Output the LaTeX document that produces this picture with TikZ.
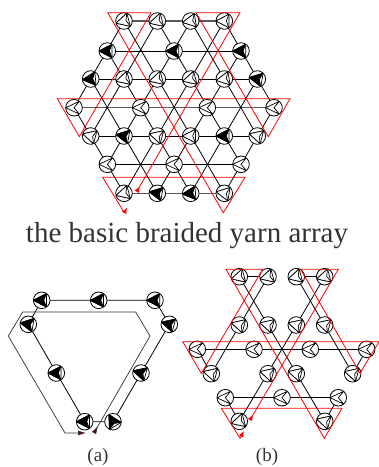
\documentclass[tikz,border=0pt]{standalone}
\usepackage{fontspec}
\setmainfont{Liberation Serif}
\usetikzlibrary{arrows.meta}

\begin{document}
\begin{tikzpicture}[
  x=1pt, y=-1pt,
  yarn/.style = {line width=0.8pt, black},
  wornyarn/.style = {line width=1.1pt, black!65},
  thread/.style = {line width=0.8pt, red, line join=miter,
    {Latex[reversed,length=6pt,width=5pt]}-{Latex[length=6pt,width=5pt]}},
  blackthread/.style = {line width=0.7pt, black!80, line join=miter,
    {Latex[reversed,length=8pt,width=5pt,fill=red!40!black]}-{Latex[length=8pt,width=5pt,fill=red!40!black]}},
  carrier/.style 2 args = {circle, draw=black, line width=0.8pt, fill=white,
    minimum size=16.6pt, inner sep=0pt,
    path picture={
      \draw[line width=0.7pt, shift={(path picture bounding box.center)}]
        (#1:8.3) -- ({#1+125}:8.3) -- ({#1-125}:8.3) -- cycle;
      \draw[line width=0.7pt, fill=#2, shift={(path picture bounding box.center)}]
        (#1:8.3) -- ({#1+125}:8.3) -- (#1+180:2) -- ({#1-125}:8.3) -- cycle;}},
  notched/.style = {circle, draw=black, line width=0.8pt, fill=white,
    minimum size=16.6pt, inner sep=0pt,
    path picture={
      \draw[line width=0.7pt, shift={(path picture bounding box.center)}]
        (#1:8.3) -- ({#1+130}:8.3) -- (0,0) -- ({#1-130}:8.3) -- cycle;}},
  caption/.style = {font=\fontsize{19}{19}\selectfont, text=black!80, inner sep=0pt}
]
\useasboundingbox (0,0) rectangle (379,467);

% basic array
\coordinate (r1a) at (124,21);
\coordinate (r1b) at (157.3,21);
\coordinate (r1c) at (190.7,21);
\coordinate (r1d) at (224.3,21);
\coordinate (r2a) at (107.3,51);
\coordinate (r2c) at (241,51);
\coordinate (r3a) at (90.7,79);
\coordinate (r3f) at (257.3,79);
\coordinate (r4a) at (74,107.7);
\coordinate (r4d) at (274,107.7);
\coordinate (r5a) at (90.7,136);
\coordinate (r5f) at (257.3,136);
\coordinate (r6a) at (107.3,164.3);
\coordinate (r6c) at (241,164.3);
\coordinate (r7a) at (124,193.3);
\coordinate (r7b) at (157.3,193.3);
\coordinate (r7c) at (190.7,193.3);
\coordinate (r7d) at (224.3,193.3);

\draw[wornyarn] (r1a) -- (r1d);
\draw[yarn] (r2a) -- (r2c);
\draw[yarn] (r3a) -- (r3f);
\draw[wornyarn] (r4a) -- (r4d);
\draw[yarn] (r5a) -- (r5f);
\draw[yarn] (r6a) -- (r6c);
\draw[wornyarn] (r7a) -- (r7d);
\foreach \from/\to in {r1a/r7d,r1b/r6c,r1c/r5f,r1d/r4d,r2a/r7c,r3a/r7b,r4a/r7a,
                       r1d/r7a,r1c/r6a,r1b/r5a,r1a/r4a,r2c/r7b,r3f/r7c,r4d/r7d}
  \draw[yarn] (\from) -- (\to);

\node[carrier={165}{white}]  (n1a) at (r1a) {};
\node[carrier={165}{white}]  (n1b) at (r1b) {};
\node[carrier={170}{white}]  (n1c) at (r1c) {};
\node[carrier={180}{white}]  (n1d) at (r1d) {};
\node[carrier={180}{black}]  (n2a) at (r2a) {};
\node[carrier={180}{black}]  (n2b) at (174,51) {};
\node[carrier={180}{black}]  (n2c) at (r2c) {};
\node[carrier={175}{black}]  (n3a) at (r3a) {};
\node[carrier={165}{white}]  (n3b) at (124,79) {};
\node[carrier={165}{white}]  (n3c) at (157.3,79) {};
\node[carrier={165}{white}]  (n3d) at (190.7,79) {};
\node[carrier={170}{white}]  (n3e) at (224.3,79) {};
\node[carrier={190}{black}]  (n3f) at (r3f) {};
\node[notched=180]           (n4a) at (r4a) {};
\node[notched=180]           (n4b) at (140.7,107.7) {};
\node[notched=180]           (n4c) at (207.3,107.7) {};
\node[notched=180]           (n4d) at (r4d) {};
\node[carrier={195}{white}]  (n5a) at (r5a) {};
\node[carrier={190}{black}]  (n5b) at (124,136) {};
\node[carrier={195}{white}]  (n5c) at (157.3,136) {};
\node[carrier={180}{white}]  (n5d) at (190.7,136) {};
\node[carrier={180}{black}]  (n5e) at (224.3,136) {};
\node[carrier={195}{white}]  (n5f) at (r5f) {};
\node[notched=180]           (n6a) at (r6a) {};
\node[notched=180]           (n6b) at (174,164.3) {};
\node[notched=180]           (n6c) at (r6c) {};
\node[carrier={165}{white}]  (n7a) at (r7a) {};
\node[carrier={190}{black}]  (n7b) at (r7b) {};
\node[carrier={175}{black}]  (n7c) at (r7c) {};
\node[carrier={190}{white}]  (n7d) at (r7d) {};

\coordinate (s1) at (136.7,191.7);
\coordinate (s2) at (127,207.5);
\draw[thread] (s1) -- (240,12.7) -- (196,12.7) -- (268.3,136.7) -- (290,98.7)
  -- (57.3,98.7) -- (79.3,136.7) -- (151,12.7) -- (107.7,12.7) -- (223.3,212.7)
  -- (245,177.3) -- (102.7,177.3) -- (124.3,212.7) -- (s2);

\node[font=\fontsize{29}{30}\selectfont, text=black!80, inner sep=0pt] (title)
  at (187,236) {the basic braided yarn array};

% (a)
\coordinate (a1) at (41.7,300.3);
\coordinate (a2) at (98.7,300.3);
\coordinate (a3) at (155,300.3);
\coordinate (a4) at (28.3,324.3);
\coordinate (a5) at (169.3,324.3);
\coordinate (a6) at (56.3,373);
\coordinate (a7) at (141,373);
\coordinate (a8) at (84.7,421.7);
\coordinate (a9) at (113,421.7);

\draw[yarn] (a4) -- (a1) -- (a3) -- (a5) -- (a9) -- (a8) -- (a4);

\node[carrier={180}{black}]  (na1) at (a1) {};
\node[carrier={180}{black}]  (na2) at (a2) {};
\node[carrier={180}{black}]  (na3) at (a3) {};
\node[carrier={190}{black}]  (na4) at (a4) {};
\node[carrier={195}{black}]  (na5) at (a5) {};
\node[carrier={180}{black}]  (na6) at (a6) {};
\node[carrier={195}{black}]  (na7) at (a7) {};
\node[carrier={180}{black}]  (na8) at (a8) {};
\node[carrier={240}{black}]  (na9) at (a9) {};

\coordinate (t1) at (94,433);
\coordinate (t2) at (86,433);
\draw[blackthread] (t1) -- (150,336) -- (135.7,312) -- (22.7,312) -- (8.3,336)
  -- (65,433) -- (t2);

\node[caption] (capa) at (98,456.5) {(a)};

% (b)
\coordinate (b1a) at (239.3,276.7);
\coordinate (b1b) at (268,276.7);
\coordinate (b1c) at (296.3,276.7);
\coordinate (b1d) at (324.7,276.7);
\coordinate (b3a) at (197.3,349.3);
\coordinate (b3d) at (366.7,349.3);
\coordinate (b4a) at (211.3,373.7);
\coordinate (b4d) at (352.7,373.7);
\coordinate (b5a) at (225.3,397.7);
\coordinate (b5c) at (338.3,397.7);
\coordinate (b6a) at (239.3,421.3);
\coordinate (b6b) at (324.7,421.3);

\foreach \from/\to in {b1a/b1b,b1c/b1d,b3a/b3d,b5a/b5c,b1a/b6b,b1c/b4d,b3a/b4a,b5a/b6a,
                       b1b/b4a,b1d/b6a,b3d/b4d,b5c/b6b}
  \draw[yarn] (\from) -- (\to);

\node[carrier={165}{white}]  (nb1a) at (b1a) {};
\node[carrier={165}{white}]  (nb1b) at (b1b) {};
\node[carrier={165}{white}]  (nb1c) at (b1c) {};
\node[carrier={165}{white}]  (nb1d) at (b1d) {};
\node[carrier={195}{white}]  (nb2a) at (239.3,325) {};
\node[carrier={195}{white}]  (nb2b) at (268,325) {};
\node[carrier={195}{white}]  (nb2c) at (296.3,325) {};
\node[carrier={195}{white}]  (nb2d) at (324.7,325) {};
\node[notched=180]           (nb3a) at (b3a) {};
\node[notched=180]           (nb3b) at (254,349.3) {};
\node[notched=180]           (nb3c) at (310.3,349.3) {};
\node[notched=180]           (nb3d) at (b3d) {};
\node[carrier={195}{white}]  (nb4a) at (b4a) {};
\node[carrier={195}{white}]  (nb4b) at (268,373.7) {};
\node[carrier={195}{white}]  (nb4c) at (296.3,373.7) {};
\node[carrier={195}{white}]  (nb4d) at (b4d) {};
\node[notched=180]           (nb5a) at (b5a) {};
\node[notched=180]           (nb5b) at (282,397.7) {};
\node[notched=180]           (nb5c) at (b5c) {};
\node[carrier={165}{white}]  (nb6a) at (b6a) {};
\node[carrier={195}{white}]  (nb6b) at (b6b) {};

\coordinate (u1) at (250,420);
\coordinate (u2) at (244,431);
\draw[thread] (u1) -- (338.3,269.3) -- (300.7,269.3) -- (360,373.3) -- (379,341.7)
  -- (182.7,341.7) -- (201.3,373.3) -- (262.7,269.3) -- (226,269.3) -- (324.3,438.3)
  -- (342,408.3) -- (221.3,408.3) -- (240,438.3) -- (u2);

\node[caption] (capb) at (267,456.5) {(b)};
\end{tikzpicture}
\end{document}
